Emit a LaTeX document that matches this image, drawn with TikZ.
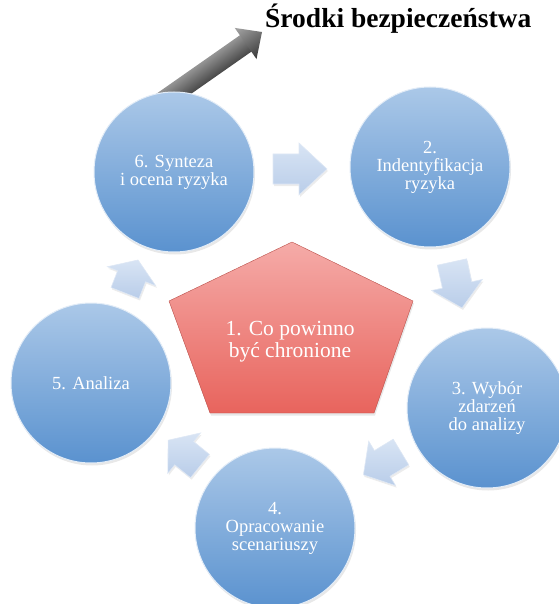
\documentclass[tikz,border=0pt]{standalone}
\usepackage{fontspec}
\setmainfont{Liberation Serif}
\usetikzlibrary{shadows}
\definecolor{discTop}{HTML}{ABC8E8}
\definecolor{discBot}{HTML}{5A92CF}
\definecolor{pentTop}{HTML}{F5ABA8}
\definecolor{pentBot}{HTML}{E8645D}
\definecolor{stepTop}{HTML}{D8E4F4}
\definecolor{stepBot}{HTML}{B9CDE9}
% block arrow: tail centre (#1,#2), direction #3, length #4, head length #5
\newcommand{\stepArrow}[5]{%
  \begin{scope}[shift={(#1,#2)}, rotate=#3]
    \path[steparrow] (0,-15) -- (#4-#5,-15) -- (#4-#5,-26) -- (#4,0)
      -- (#4-#5,26) -- (#4-#5,15) -- (0,15) -- cycle;
  \end{scope}}
\begin{document}
\begin{tikzpicture}[x=1pt, y=-1pt,
  disc/.style={circle, minimum size=160pt, inner sep=0pt,
    top color=discTop, bottom color=discBot,
    draw=white!65!discTop, line width=1pt,
    drop shadow={opacity=0.18, shadow xshift=1pt, shadow yshift=-2.5pt},
    text=white, align=center, font=\fontsize{18.5}{18}\selectfont},
  steparrow/.style={top color=stepTop, bottom color=stepBot,
    draw=white!55!stepBot, line width=0.6pt,
    drop shadow={opacity=0.15, shadow xshift=1pt, shadow yshift=-2pt}},
  pent/.style={top color=pentTop, bottom color=pentBot,
    draw=pentBot!80!black, line width=0.4pt,
    drop shadow={opacity=0.18, shadow xshift=1pt, shadow yshift=-2.5pt}},
  coretext/.style={text=white, align=center, font=\fontsize{21.5}{22}\selectfont},
  titletext/.style={font=\fontsize{27.5}{28}\selectfont\bfseries, text=black}
]
\useasboundingbox (0,0) rectangle (558,604);

% title of the outgoing result
\node[titletext, anchor=base west, inner sep=0pt] (title) at (265,28)
  {Środki bezpieczeństwa};

% grey output arrow leaving step 6 towards the title
\begin{scope}[transform canvas={shift={(262,32)}, rotate=35}]
  \shade[top color=black!42, middle color=black!14, bottom color=black!72]
    (-135,-10) rectangle (-19,10);
  \shade[top color=black!35, bottom color=black!78]
    (-20,-19) -- (0,0) -- (-20,19) -- cycle;
\end{scope}

% central pentagon
\coordinate (pA) at (292,242);
\coordinate (pB) at (413,301);
\coordinate (pC) at (374,413);
\coordinate (pD) at (210,413);
\coordinate (pE) at (169,301);
\path[pent] (pA) -- (pB) -- (pC) -- (pD) -- (pE) -- cycle;
\node[coretext] (core) at (290,342) {1. Co powinno\\być chronione};

% process steps
\node[disc] (s6) at (174,172) {6. Synteza\\i ocena ryzyka};
\node[disc] (s2) at (430,167) {2.\\Indentyfikacja\\ryzyka};
\node[disc] (s3) at (487,408) {3. Wybór\\zdarzeń\\do analizy};
\node[disc] (s4) at (275,528) {4.\\Opracowanie\\scenariuszy};
\node[disc] (s5) at (91,383) {5. Analiza};

% block arrows between consecutive steps
\stepArrow{273}{169}{0}{54}{28}
\stepArrow{452}{262}{-77.7}{47}{23.5}
\stepArrow{401}{452}{-148.8}{44}{22}
\stepArrow{200}{466}{141}{41}{20.6}
\stepArrow{125}{293}{68.5}{35.5}{17.5}
\end{tikzpicture}
\end{document}
